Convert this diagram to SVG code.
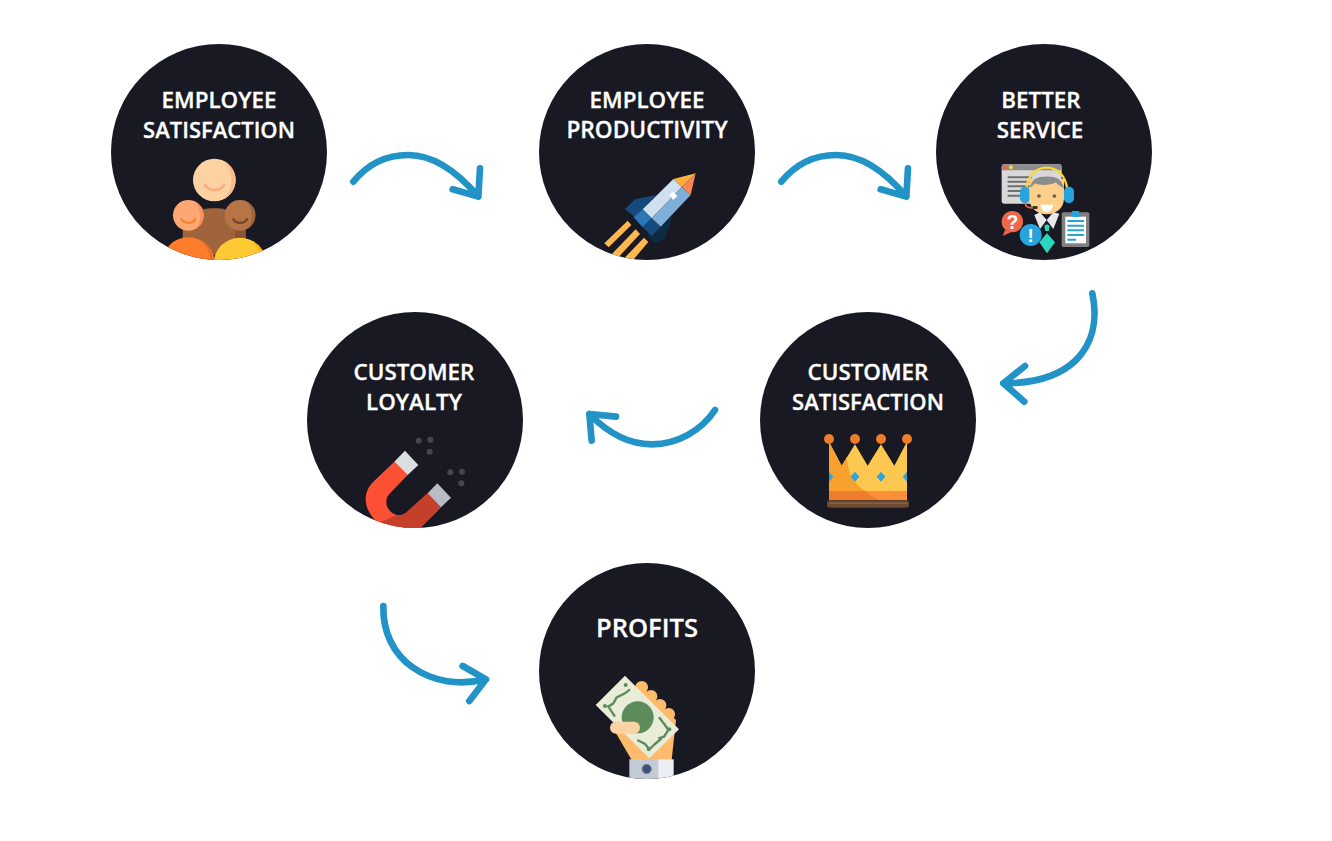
<svg xmlns="http://www.w3.org/2000/svg" width="1332" height="841" viewBox="0 0 1332 841">
<style>
.disc{fill:#181923}
.lbl{font-family:"Open Sans","Liberation Sans",sans-serif;font-weight:600;font-size:22.4px;fill:#fff;stroke:#fff;stroke-width:.3;text-anchor:middle}
.arc{fill:none;stroke:#2293c6;stroke-width:20;stroke-linecap:round;stroke-linejoin:round}
.ic{font-family:"Liberation Sans",sans-serif;font-weight:700;fill:#fff;text-anchor:middle}
</style>
<defs>
<clipPath id="c1"><circle cx="219" cy="152" r="108"/></clipPath>
<clipPath id="c2"><circle cx="647" cy="152" r="108"/></clipPath>
<clipPath id="c3"><circle cx="1044" cy="152" r="108"/></clipPath>
<clipPath id="c5"><circle cx="415" cy="420" r="108"/></clipPath>
<clipPath id="c6"><circle cx="647" cy="671" r="108"/></clipPath>
<clipPath id="crownbody"><path d="M42 50L80 122L120 58L158 122L198 58L238 122L276 50V226H42Z"/></clipPath>
</defs>
<rect width="1332" height="841" fill="#fff"/>

<g id="connectors">
<g transform="translate(340,140) scale(.3333)">
<path class="arc" d="M40 125C85 70 140 45 205 45C285 45 360 105 415 170M420 85L415 170L338 148"/>
</g>
<g transform="translate(768,140) scale(.3333)">
<path class="arc" d="M40 125C85 70 140 45 205 45C285 45 360 105 415 170M420 85L415 170L338 148"/>
</g>
<g transform="translate(990,285) scale(.3333)">
<path class="arc" d="M307 25C325 110 305 180 255 228C200 280 125 295 40 295M105 243L40 295L103 350"/>
</g>
<g transform="translate(575,395) scale(.3333)">
<path class="arc" d="M420 45C380 105 310 148 230 148C160 148 95 110 43 57M123 65L43 57L50 137"/>
</g>
<g transform="translate(370,595) scale(.3333)">
<path class="arc" d="M40 33C38 110 70 175 125 215C190 262 270 272 348 253M278 213L348 253L298 318"/>
</g>
</g>

<g id="node-employee-satisfaction">
<circle class="disc" cx="219" cy="152" r="108"/>
<text class="lbl" x="219" y="108">EMPLOYEE</text>
<text class="lbl" x="219" y="138" style="font-size:22px">SATISFACTION</text>
<g clip-path="url(#c1)"><g transform="translate(110,140) scale(.3333)">
<path d="M218 345V270C218 228 260 205 313 205C366 205 407 228 407 270V345Z" fill="#a0643c"/>
<path d="M375 262H407V320H375Z" fill="#8a5432"/>
<circle cx="313" cy="120" r="64" fill="#fdd2a2"/>
<path d="M340 62A64 64 0 0 1 340 178C358 160 364 140 364 118C364 95 356 78 340 62Z" fill="#fbb98e"/>
<path d="M285 135C295 155 332 155 342 135" fill="none" stroke="#fbab7c" stroke-width="8" stroke-linecap="round"/>
<circle cx="235" cy="226" r="46" fill="#fda772"/>
<path d="M258 186A46 46 0 0 1 258 266C272 250 278 222 258 186Z" fill="#f7925c"/>
<path d="M215 238C224 252 248 252 256 238" fill="none" stroke="#f98130" stroke-width="7" stroke-linecap="round"/>
<circle cx="390" cy="226" r="46" fill="#b67447"/>
<path d="M413 186A46 46 0 0 1 413 266C427 250 433 222 413 186Z" fill="#9f623a"/>
<path d="M370 238C379 252 403 252 411 238" fill="none" stroke="#76472a" stroke-width="7" stroke-linecap="round"/>
<circle cx="235" cy="372" r="80" fill="#fd7d2c"/>
<path d="M268 300A80 80 0 0 1 315 372V400H290C310 360 300 325 268 300Z" fill="#ef6c25"/>
<circle cx="390" cy="372" r="79" fill="#ffc933"/>
<path d="M425 302A80 80 0 0 1 470 372H460C455 345 445 320 425 302Z" fill="#fdb200"/>
</g></g>
</g>

<g id="node-employee-productivity">
<circle class="disc" cx="647" cy="152" r="108"/>
<text class="lbl" x="647" y="108">EMPLOYEE</text>
<text class="lbl" x="647" y="138" style="font-size:22.7px">PRODUCTIVITY</text>
<g clip-path="url(#c2)"><g transform="translate(590,160) scale(.3333)">
<path d="M105 148L135 118L198 105L135 172Z" fill="#174a7c"/>
<path d="M250 165L225 235L195 250L170 225Z" fill="#0d2b44"/>
<path d="M43 250L113 182L124 195L56 262Z" fill="#fdb94f"/>
<path d="M65 283L137 208L150 222L85 292Z" fill="#fdb94f"/>
<path d="M105 292L162 233L175 246L125 305Z" fill="#fdb94f"/>
<path d="M250 57L276 81L185 175L158 148Z" fill="#cfe1f0"/>
<path d="M276 81L302 105L212 200L185 175Z" fill="#7eb0d9"/>
<path d="M158 148L185 175L158 202L131 172Z" fill="#2a77b8"/>
<path d="M185 175L212 200L185 228L158 202Z" fill="#174a7c"/>
<path d="M250 57L317 40L276 81Z" fill="#fdb13c"/>
<path d="M317 40L302 105L276 81Z" fill="#fb8750"/>
<path d="M238 105L250 95L262 108L250 120Z" fill="#fff"/>
</g></g>
</g>

<g id="node-better-service">
<circle class="disc" cx="1044" cy="152" r="108"/>
<text class="lbl" x="1041" y="108">BETTER</text>
<text class="lbl" x="1040" y="138">SERVICE</text>
<g clip-path="url(#c3)"><g transform="translate(990,155) scale(.3333)">
<rect x="35" y="28" width="180" height="118" rx="7" fill="#d8d8d8"/>
<path d="M35 46V35Q35 28 42 28H208Q215 28 215 35V46Z" fill="#8c8c8c"/>
<circle cx="47" cy="37" r="6" fill="#f0674a"/><circle cx="63" cy="37" r="6" fill="#fdd835"/>
<path d="M53 67H125M53 80H125M53 94H125M53 108H125M53 122H125" stroke="#6e6e6e" stroke-width="6"/>
<path d="M108 105C112 65 135 38 170 38C205 38 228 65 232 105" fill="none" stroke="#fdd835" stroke-width="7"/>
<rect x="90" y="95" width="30" height="50" rx="15" fill="#27a4dd"/>
<rect x="222" y="95" width="30" height="50" rx="15" fill="#27a4dd"/>
<path d="M105 142C106 155 115 160 130 158" fill="none" stroke="#f0674a" stroke-width="5"/>
<path d="M118 72H222V130C222 160 198 178 170 178C142 178 118 160 118 130Z" fill="#fdcf88"/>
<path d="M118 100C122 85 130 75 135 72C150 62 190 62 205 72C212 77 220 88 222 100C205 92 200 85 198 82C180 92 150 92 135 85C130 92 125 95 118 100Z" fill="#8c8c8c"/>
<circle cx="147" cy="123" r="5.5" fill="#5b6470"/><circle cx="193" cy="123" r="5.5" fill="#5b6470"/>
<path d="M151 149H190C188 163 180 171 170 171C160 171 153 163 151 149Z" fill="#fff"/>
<rect x="127" y="153" width="16" height="9" rx="4" fill="#333"/>
<path d="M133 180L150 172L170 195L150 222Z" fill="#e8e8e8"/>
<path d="M208 176L190 172L170 195L190 222Z" fill="#e8e8e8"/>
<path d="M163 212L171 208L179 212L176 228H166Z" fill="#2ad8bd"/>
<path d="M171 235L195 262L171 295L148 262Z" fill="#2ad8bd"/>
<rect x="215" y="172" width="83" height="104" rx="5" fill="#808080"/>
<rect x="226" y="185" width="62" height="80" fill="#fff"/>
<rect x="245" y="168" width="23" height="18" rx="3" fill="#27a4dd"/>
<path d="M232 198H282M232 212H282M232 226H282M232 240H282M232 254H258" stroke="#27a4dd" stroke-width="6"/>
<path d="M45 225L38 243L62 232Z" fill="#f0674a"/>
<circle cx="67" cy="200" r="32" fill="#f0674a"/>
<text class="ic" x="67" y="221" font-size="58">?</text>
<circle cx="122" cy="240" r="33" fill="#27a4dd"/>
<text class="ic" x="122" y="260" font-size="56">!</text>
</g></g>
</g>

<g id="node-customer-satisfaction">
<circle class="disc" cx="868" cy="420" r="108"/>
<text class="lbl" x="868" y="380">CUSTOMER</text>
<text class="lbl" x="868" y="410" style="font-size:22px">SATISFACTION</text>
<g transform="translate(815,425) scale(.3333)">
<g clip-path="url(#crownbody)">
<rect x="42" y="40" width="240" height="190" fill="#fec850"/>
<path d="M42 40H104C88 95 92 160 150 198H42Z" fill="#f9a12e"/>
<rect x="42" y="198" width="236" height="28" fill="#fd8f38"/>
<path d="M42 198H150C165 210 180 218 195 226H42Z" fill="#ef7d2f"/>
<path d="M42 140L55 155L42 170L29 155Z" fill="#2fa3dd"/>
<path d="M120 140L133 155L120 170L107 155Z" fill="#2fa3dd"/>
<path d="M198 140L211 155L198 170L185 155Z" fill="#2fa3dd"/>
<path d="M276 140L289 155L276 170L263 155Z" fill="#2fa3dd"/>
</g>
<rect x="36" y="226" width="246" height="22" rx="9" fill="#6d4a30"/>
<rect x="42" y="233" width="234" height="4" fill="#8a6242"/>
<circle cx="42" cy="42" r="15" fill="#ee7d2b"/><circle cx="120" cy="42" r="15" fill="#ee7d2b"/>
<circle cx="198" cy="42" r="15" fill="#ee7d2b"/><circle cx="276" cy="42" r="15" fill="#ee7d2b"/>
</g>
</g>

<g id="node-customer-loyalty">
<circle class="disc" cx="415" cy="420" r="108"/>
<text class="lbl" x="414" y="380">CUSTOMER</text>
<text class="lbl" x="414" y="410">LOYALTY</text>
<g clip-path="url(#c5)"><g transform="translate(355,430) scale(.3333)">
<g fill="#46474c"><circle cx="191" cy="32" r="9"/><circle cx="226" cy="29" r="9"/><circle cx="224" cy="65" r="9"/><circle cx="286" cy="127" r="9"/><circle cx="321" cy="125" r="9"/><circle cx="319" cy="160" r="9"/></g>
<path d="M118 95L158 135L105 190C88 208 92 232 108 246C125 260 145 258 160 242L218 190L258 232L195 295C160 320 100 310 70 280C25 240 20 190 55 155Z" fill="#fd5035"/>
<path d="M78 275L125 255C135 258 150 252 160 242L218 190L258 232L195 295L120 320Z" fill="#c63f2a"/>
<path d="M118 95L150 62L190 105L158 135Z" fill="#dcdde1"/>
<path d="M218 190L247 160L288 203L258 232Z" fill="#b9bcc4"/>
</g></g>
</g>

<g id="node-profits">
<circle class="disc" cx="647" cy="671" r="108"/>
<text class="lbl" x="647" y="637" style="font-size:25.5px">PROFITS</text>
<g clip-path="url(#c6)"><g transform="translate(590,670) scale(.3333)">
<path d="M78 190L125 270H245L258 150L150 45Z" fill="#fdbb6b"/>
<circle cx="155" cy="52" r="19" fill="#fdbb6b"/><circle cx="183" cy="79" r="19" fill="#fdbb6b"/>
<circle cx="210" cy="106" r="19" fill="#fdbb6b"/><circle cx="236" cy="133" r="19" fill="#fdbb6b"/>
<path d="M105 17L267 178L178 265L17 105Z" fill="#e9ecd6"/>
<circle cx="143" cy="142" r="48" fill="#5c8c5c"/>
<path d="M120 58L105 70L80 82L70 100L55 110L75 140M207 142L225 165L235 180L222 200L205 205M142 210L165 222L178 238L195 222L215 205" fill="none" stroke="#5c8c5c" stroke-width="7"/>
<circle cx="107" cy="45" r="6" fill="#5c8c5c"/><circle cx="45" cy="108" r="6" fill="#5c8c5c"/>
<circle cx="238" cy="178" r="6" fill="#5c8c5c"/><circle cx="176" cy="238" r="6" fill="#5c8c5c"/>
<rect x="60" y="155" width="90" height="36" rx="18" fill="#fdd3a5"/>
<rect x="118" y="268" width="90" height="70" fill="#c3ccd6"/>
<rect x="205" y="268" width="46" height="70" fill="#ebeff3"/>
<circle cx="170" cy="297" r="14" fill="#3f4f7f" stroke="#7d8697" stroke-width="3"/>
</g></g>
</g>
</svg>
